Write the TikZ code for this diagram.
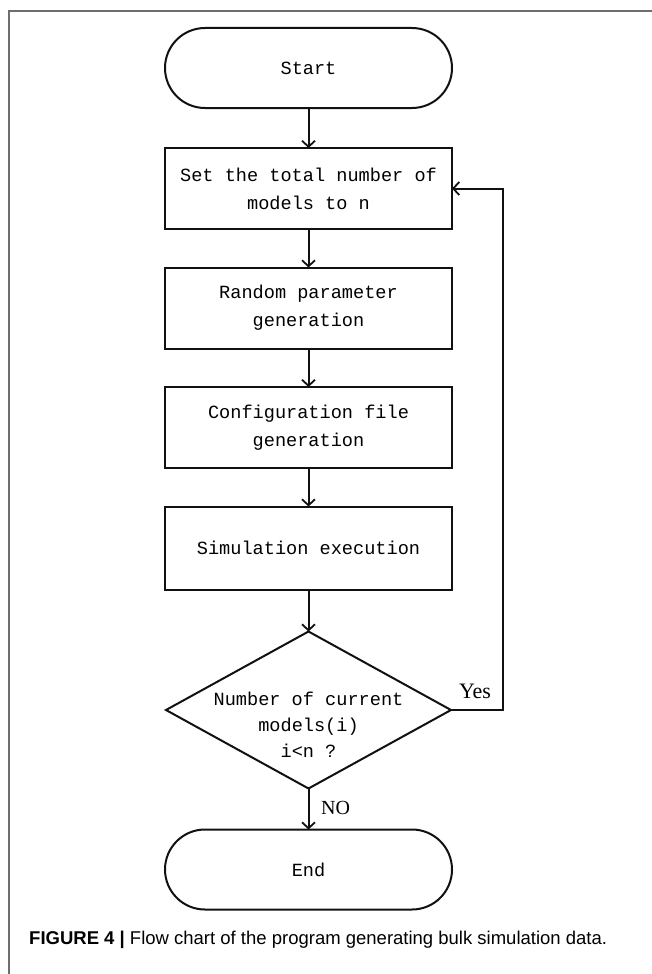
\documentclass[tikz,border=0pt]{standalone}
\usepackage{fontspec}
\setmainfont{Liberation Serif}
\setsansfont{Liberation Sans}
\setmonofont{Liberation Mono}
\usepackage{tikz}
\usetikzlibrary{arrows.meta,positioning,shapes.geometric}
\usepackage{xcolor}
\definecolor{frame}{HTML}{6E6E6E}
\definecolor{ink}  {HTML}{111111}

\tikzset{
  flowline/.style={draw=ink, line width=2pt},
  arr/.style={flowline, -{Straight Barb[length=6pt,width=13pt,line width=1.8pt]}},
  terminal/.style={flowline, rectangle, rounded corners=40pt,
    minimum width=287pt, minimum height=80pt, inner sep=0pt, outer sep=0pt,
    font=\ttfamily\fontsize{18.6}{28}\selectfont},
  process/.style={flowline, rectangle, minimum width=287pt,
    minimum height=81pt, outer sep=0pt, align=center,
    font=\ttfamily\fontsize{18.6}{28}\selectfont},
  decision/.style={flowline, diamond, minimum width=285pt,
    minimum height=157pt, inner sep=0pt, outer sep=0pt},
  branch/.style={font=\fontsize{22}{24}\selectfont, inner sep=0pt}
}

\begin{document}
\begin{tikzpicture}[x=1pt, y=-1pt, node distance=38.5pt]
  \useasboundingbox (0,0) rectangle (652,974);
  % frame of the figure
  \draw[frame, line width=1.5pt] (9,974) -- (9,11) -- (652,11);

  \node[terminal] (start) at (308.5,68) {Start};
  \node[process, below=40pt of start] (setn) {Set the total number of\\models to n};
  \node[process, below=of setn] (rand) {Random parameter\\generation};
  \node[process, below=of rand] (conf) {Configuration file\\generation};
  \node[process, minimum height=83pt, below=of conf] (sim) {Simulation execution};
  \node[decision, below=42pt of sim] (check) {};
  \node[align=center, font=\ttfamily\fontsize{18.6}{26}\selectfont]
    (checktext) at ([yshift=-15pt]check.center)
    {Number of current\\models(i)\\i<n ?};
  \node[terminal, below=41pt of check] (end) {End};

  \draw[arr] (start) -- (setn);
  \draw[arr] (setn) -- (rand);
  \draw[arr] (rand) -- (conf);
  \draw[arr] (conf) -- (sim);
  \draw[arr] (sim) -- (check);
  \draw[arr] (check) -- (end);
  \draw[arr] (check.east) -- ++(52,0) |- (setn.east);
  \node[branch] (yeslabel) at (475,691) {Yes};
  \node[branch, font=\fontsize{20}{22}\selectfont] (nolabel) at (335.5,808) {NO};

  % caption
  \node[anchor=west, font=\sffamily\fontsize{18.5}{20}\selectfont, inner sep=0pt]
    (caption) at (29,940)
    {\textbf{FIGURE 4 |} Flow chart of the program generating bulk simulation data.};
\end{tikzpicture}
\end{document}
